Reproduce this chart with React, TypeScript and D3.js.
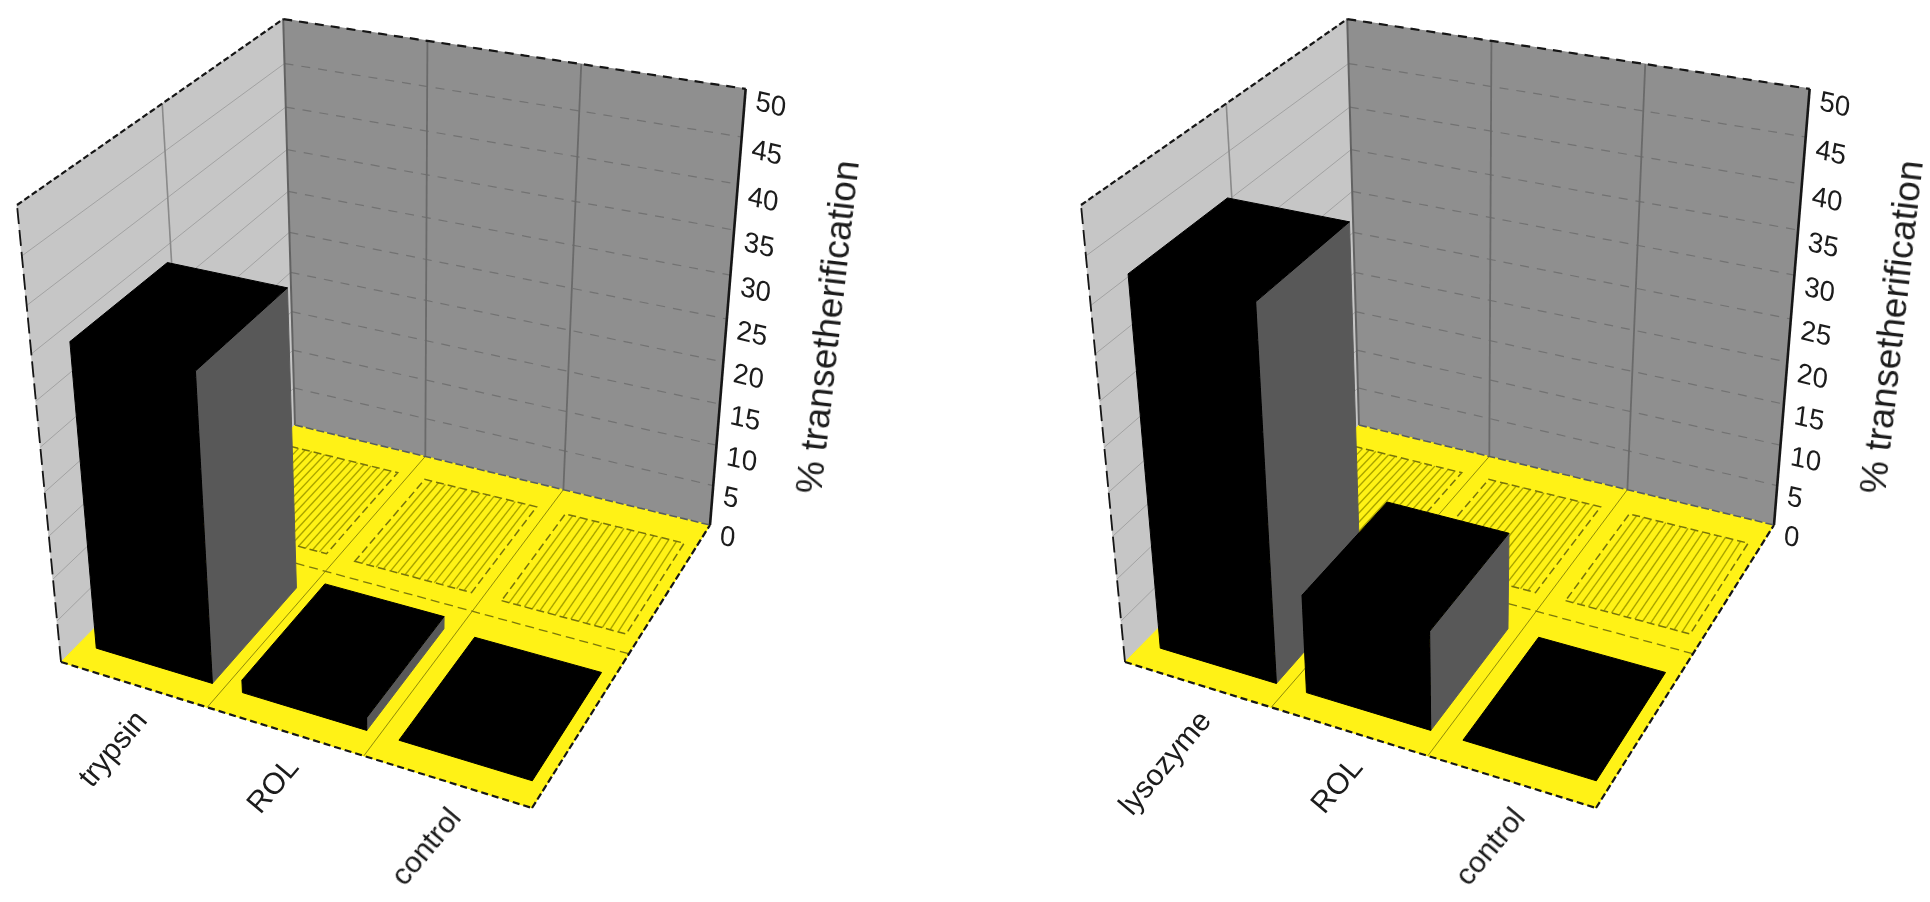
import React, { useRef, useEffect } from 'react';
import * as d3 from 'd3';

const rows = ['front', 'back'];
const yTicks = d3.scaleLinear().domain([0, 50]).ticks(10);

const leftCategories = ['trypsin', 'ROL', 'control'];
const leftFront = [35, 1.5, 0];
const leftBack = [0, 0, 0];

const rightCategories = ['lysozyme', 'ROL', 'control'];
const rightFront = [42, 11.5, 0];
const rightBack = [0, 0, 0];

const axisTitle = '% transetherification';

const width = 1930;
const height = 902;

type Pt = [number, number];

// box corners as they sit on the page, the rest follows from perspective
const corners = {
  a: [61, 662] as Pt,
  f: [532, 808] as Pt,
  r: [710, 525] as Pt,
  b: [295, 425] as Pt,
  topA: [17, 205] as Pt,
  topR: [745, 97] as Pt,
};

const makeProject = (dx: number) => {
  const { a, f, r, b, topA, topR } = corners;
  const sx = a[0] - f[0] + r[0] - b[0];
  const sy = a[1] - f[1] + r[1] - b[1];
  const dx1 = f[0] - r[0];
  const dx2 = b[0] - r[0];
  const dy1 = f[1] - r[1];
  const dy2 = b[1] - r[1];
  const den = dx1 * dy2 - dx2 * dy1;
  const g = (sx * dy2 - dx2 * sy) / den;
  const h = (dx1 * sy - sx * dy1) / den;
  const m = [
    f[0] - a[0] + g * f[0],
    b[0] - a[0] + h * b[0],
    a[0],
    f[1] - a[1] + g * f[1],
    b[1] - a[1] + h * b[1],
    a[1],
  ];

  // vertical vanishing point
  const ka = (a[0] - topA[0]) / (a[1] - topA[1]);
  const kr = (r[0] - topR[0]) / (r[1] - topR[1]);
  const vy = (r[0] - kr * r[1] - a[0] + ka * a[1]) / (ka - kr);
  const vx = a[0] + ka * (vy - a[1]);
  const k = (topA[1] - a[1]) / (vy - topA[1]);

  return (u: number, v: number, z: number): Pt => {
    const w = g * u + h * v + 1 + k * z;
    return [
      (m[0] * u + m[1] * v + m[2] + k * z * vx) / w + dx,
      (m[3] * u + m[4] * v + m[5] + k * z * vy) / w,
    ];
  };
};

const drawChart = (
  root: any,
  dx: number,
  categories: string[],
  front: number[],
  back: number[]
) => {
  const project = makeProject(dx);
  const line = d3.line();

  const zScale = d3.scaleLinear().domain([0, 50]).range([0, 1]);
  const uBand = d3
    .scaleBand<string>()
    .domain(categories)
    .range([0.006, 1.006])
    .paddingInner(0.2)
    .paddingOuter(0.1);
  const vBand = d3
    .scaleBand<string>()
    .domain(rows)
    .range([0, 0.98])
    .paddingInner(0.28)
    .paddingOuter(0.14);

  const cellEdges = d3.range(1, categories.length).map((i) => i / categories.length);
  const rowEdge = 1 / rows.length;

  const poly = (pts: Pt[], fill: string) =>
    root
      .append('path')
      .attr('d', line(pts) + 'Z')
      .attr('fill', fill)
      .attr('stroke', fill)
      .attr('stroke-width', 1);

  const stroke = (
    from: Pt,
    to: Pt,
    color: string,
    w: number,
    dash: string | null = null
  ) =>
    root
      .append('path')
      .attr('d', line([from, to]))
      .attr('fill', 'none')
      .attr('stroke', color)
      .attr('stroke-width', w)
      .attr('stroke-dasharray', dash);

  // walls
  poly([project(0, 1, 0), project(1, 1, 0), project(1, 1, 1), project(0, 1, 1)], '#8f8f8f');
  poly([project(0, 0, 0), project(0, 1, 0), project(0, 1, 1), project(0, 0, 1)], '#c6c6c6');

  yTicks.slice(1, -1).forEach((t) => {
    const z = zScale(t);
    stroke(project(0, 1, z), project(1, 1, z), '#727272', 1.2, '9 8');
    stroke(project(0, 0, z), project(0, 1, z), '#a2a2a2', 1);
  });
  cellEdges.forEach((u) => stroke(project(u, 1, 0), project(u, 1, 1), '#6a6a6a', 1.8));
  stroke(project(0, rowEdge, 0), project(0, rowEdge, 1), '#8a8a8a', 1.6);
  stroke(project(0, 1, 0), project(0, 1, 1), '#626262', 2);

  // floor
  poly([project(0, 0, 0), project(1, 0, 0), project(1, 1, 0), project(0, 1, 0)], '#fff212');
  cellEdges.forEach((u) => stroke(project(u, 0, 0), project(u, 1, 0), '#8f8a10', 1));
  stroke(project(0, rowEdge, 0), project(1, rowEdge, 0), '#7c780e', 1.3, '9 5');

  // zero height back row, drawn as hatched cells
  categories.forEach((c, i) => {
    const u0 = uBand(c)!;
    const u1 = u0 + uBand.bandwidth();
    const v0 = vBand('back')!;
    const v1 = v0 + vBand.bandwidth();
    d3.range(1, 16).forEach((n) => {
      const u = u0 + ((u1 - u0) * n) / 16;
      stroke(project(u, v0, zScale(back[i])), project(u, v1, zScale(back[i])), '#aaa400', 1.4);
    });
    root
      .append('path')
      .attr(
        'd',
        line([project(u0, v0, 0), project(u1, v0, 0), project(u1, v1, 0), project(u0, v1, 0)]) + 'Z'
      )
      .attr('fill', 'none')
      .attr('stroke', '#77730a')
      .attr('stroke-width', 1.5)
      .attr('stroke-dasharray', '8 4');
  });

  // front row, left to right so the nearer bar covers the one behind
  categories.forEach((c, i) => {
    const u0 = uBand(c)!;
    const u1 = u0 + uBand.bandwidth();
    const v0 = vBand('front')!;
    const v1 = v0 + vBand.bandwidth();
    const z = zScale(front[i]);
    if (z > 0) {
      poly([project(u1, v0, 0), project(u1, v1, 0), project(u1, v1, z), project(u1, v0, z)], '#595959');
      poly([project(u0, v0, 0), project(u1, v0, 0), project(u1, v0, z), project(u0, v0, z)], '#000');
    }
    poly([project(u0, v0, z), project(u1, v0, z), project(u1, v1, z), project(u0, v1, z)], '#000');
  });

  // box outline
  const edge = '#151515';
  stroke(project(0, 0, 0), project(1, 0, 0), edge, 2.2, '7 4');
  stroke(project(1, 0, 0), project(1, 1, 0), edge, 2.2, '7 3');
  stroke(project(1, 1, 0), project(1, 1, 1), edge, 2.6);
  stroke(project(0, 1, 1), project(1, 1, 1), edge, 2.2, '9 7');
  stroke(project(0, 0, 1), project(0, 1, 1), edge, 2.2, '6 3');
  stroke(project(0, 0, 0), project(0, 0, 1), edge, 1.8, '16 6');
  stroke(project(0, 1, 0), project(1, 1, 0), '#555b66', 1.6, '8 3');

  // value axis
  yTicks.forEach((t) => {
    const [x, y] = project(1, 1, zScale(t));
    root
      .append('text')
      .attr('transform', `translate(${x + 9},${y + 19 + zScale(t) * 2}) skewX(-7) skewY(13)`)
      .attr('font-size', 28)
      .attr('fill', '#1a1a1a')
      .text(t);
  });

  root
    .append('text')
    .attr('transform', `translate(${821 + dx},495) rotate(-83.5)`)
    .attr('font-size', 37)
    .attr('fill', '#1a1a1a')
    .text(axisTitle);

  // category labels
  categories.forEach((c) => {
    const [x, y] = project(uBand(c)! + uBand.bandwidth() / 2, 0, 0);
    root
      .append('text')
      .attr('transform', `translate(${x + 13},${y + 36}) rotate(-50)`)
      .attr('text-anchor', 'end')
      .attr('font-size', 30)
      .attr('fill', '#1a1a1a')
      .text(c);
  });
};

const App = () => {
  const ref = useRef<SVGSVGElement | null>(null);

  useEffect(() => {
    if (!ref.current) return;

    const svg = d3.select(ref.current);
    svg.selectAll('*').remove();

    svg
      .append('defs')
      .append('filter')
      .attr('id', 'soft')
      .attr('filterUnits', 'userSpaceOnUse')
      .attr('x', 0)
      .attr('y', 0)
      .attr('width', width)
      .attr('height', height)
      .append('feGaussianBlur')
      .attr('stdDeviation', 0.65);

    const root = svg
      .append('g')
      .attr('filter', 'url(#soft)')
      .attr('font-family', '"Liberation Sans", Arial, sans-serif');

    drawChart(root, 0, leftCategories, leftFront, leftBack);
    drawChart(root, 1064, rightCategories, rightFront, rightBack);
  }, []);

  return (
    <svg
      ref={ref}
      width={width}
      height={height}
      viewBox={`0 0 ${width} ${height}`}
      style={{ position: 'absolute', left: 0, top: 0, background: '#fff' }}
    />
  );
};

export default App;
